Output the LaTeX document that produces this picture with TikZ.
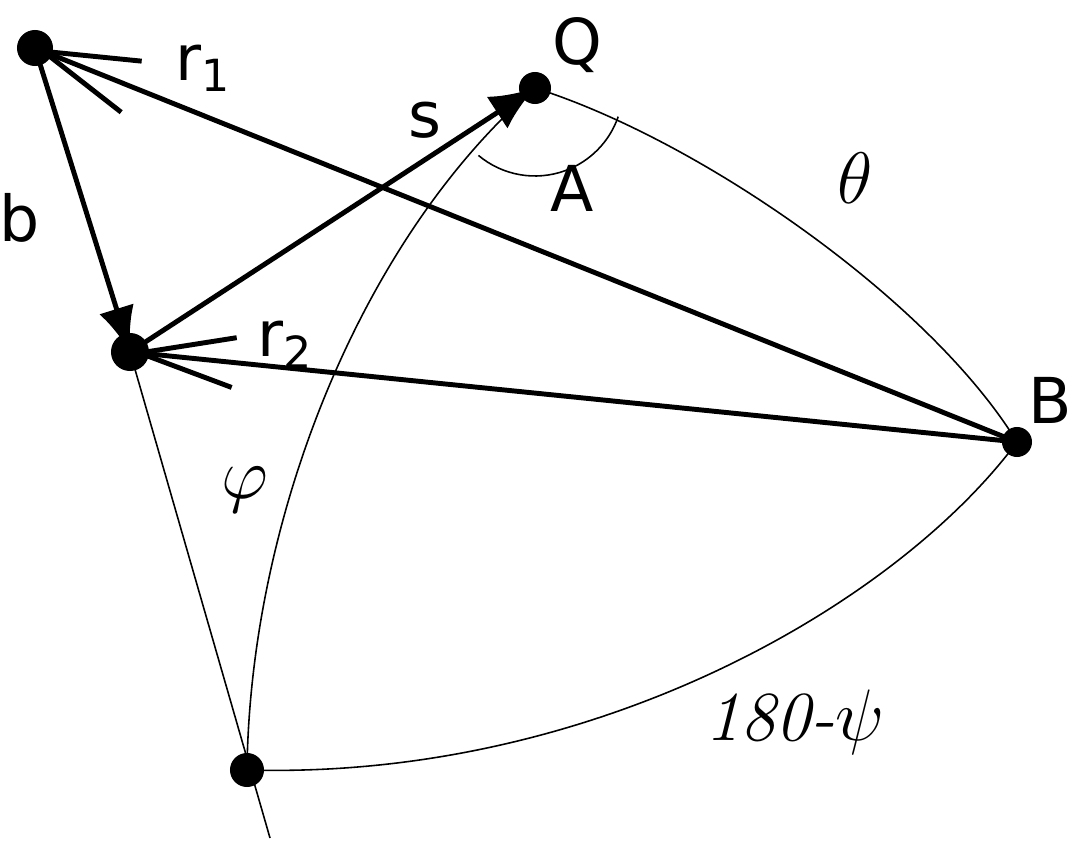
\documentclass[tikz,border=0pt]{standalone}
\usepackage{fontspec}
\setsansfont{DejaVu Sans}
\usetikzlibrary{arrows.meta}
\tikzset{
	dot/.style={circle,fill=black,inner sep=0pt,minimum size=#1},
	vec/.style={line width=1.4pt},
	arc line/.style={line width=0.45pt},
	lbl/.style={font=\sffamily\fontsize{18}{20}\selectfont},
	glbl/.style={font=\fontsize{20}{22}\selectfont}
}
\begin{document}
\begin{tikzpicture}[x=0.01cm,y=-0.01cm]
	\useasboundingbox (0,0) rectangle (1075,843);
	\node[dot=0.36cm] (p1) at (35,48) {};
	\node[dot=0.38cm] (p2) at (130,352) {};
	\node[dot=0.32cm] (q) at (535,88) {};
	\node[dot=0.3cm] (b) at (1017,442) {};
	\node[dot=0.34cm] (c) at (247,770) {};
	\coordinate (e) at (270,838);

	% great circle arcs
	\draw[arc line] (q.center) .. controls (700,140) and (930,300) .. (b.center);
	\draw[arc line] (q.center) .. controls (360,240) and (250,520) .. (c.center);
	\draw[arc line] (c.center) .. controls (600,780) and (900,600) .. (b.center);
	\draw[arc line] (p2.center) -- (e);
	\draw[arc line] (q.center) ++(130:88) arc[start angle=130,end angle=19,radius=88];

	% vectors
	\draw[vec,-{Straight Barb[length=0.95cm,width=0.55cm,line width=1.4pt]}] (b.center) -- (p1.center);
	\draw[vec,-{Straight Barb[length=0.95cm,width=0.5cm,line width=1.4pt]}] (b.center) -- (p2.center);
	\draw[vec,-{Latex[length=0.45cm,width=0.38cm]}] (p2.center) -- (q.center);
	\draw[vec,-{Latex[length=0.45cm,width=0.36cm]}] (p1.center) -- (p2.center);

	% labels
	\node[lbl] (lq) at (577,45) {Q};
	\node[lbl] (lr1) at (203,68) {r\textsubscript{1}};
	\node[lbl] (ls) at (425,120) {s};
	\node[lbl] (la) at (572,188) {A};
	\node[glbl] (lth) at (855,178) {$\theta$};
	\node[lbl] (lb) at (20,218) {b};
	\node[lbl] (lr2) at (285,345) {r\textsubscript{2}};
	\node[lbl] (lbb) at (1050,400) {B};
	\node[glbl] (lph) at (245,490) {$\varphi$};
	\node[glbl] (lpsi) at (795,722) {\itshape 180-$\psi$};
\end{tikzpicture}
\end{document}
